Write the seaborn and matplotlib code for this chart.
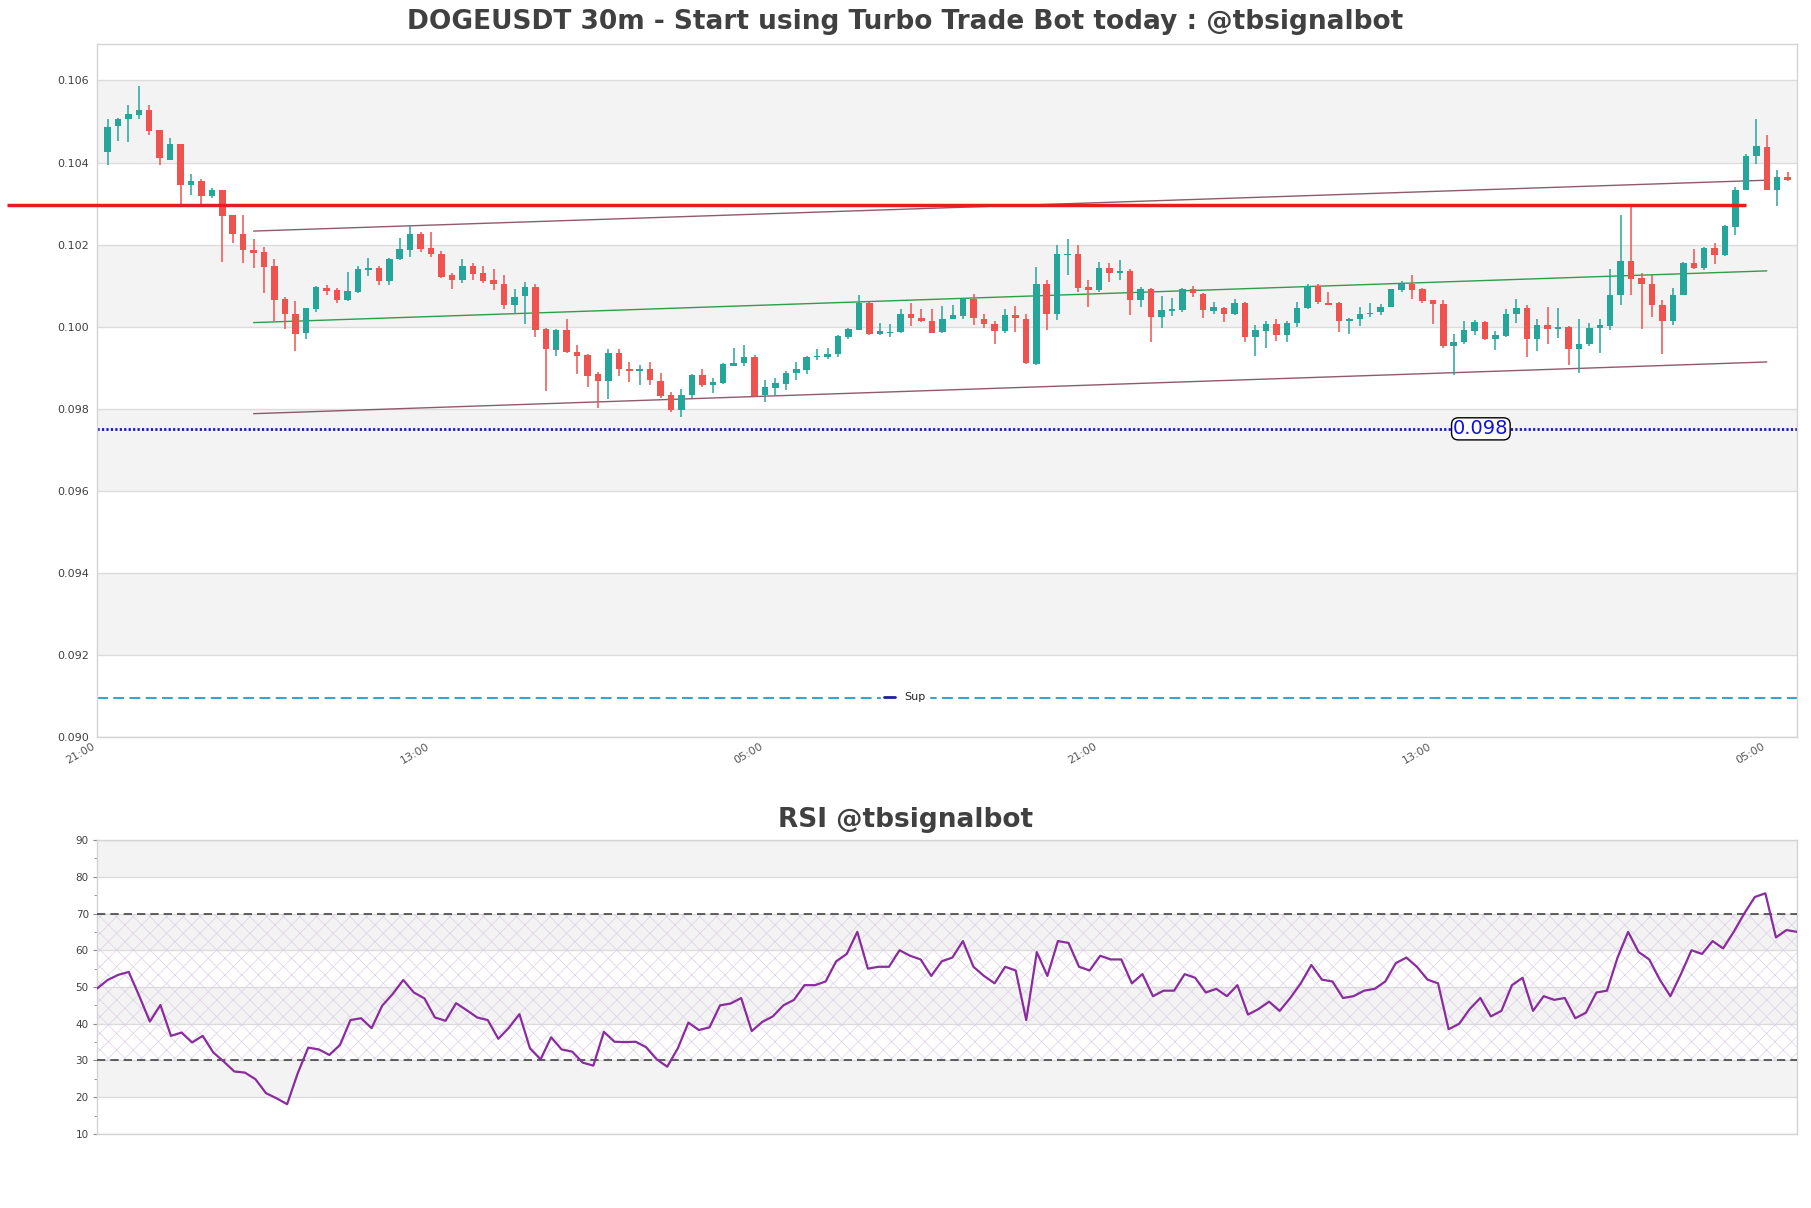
import numpy as np
import pandas as pd
import matplotlib
matplotlib.use("Agg")
import matplotlib.pyplot as plt
import seaborn as sns
from matplotlib.lines import Line2D
from matplotlib.ticker import FormatStrFormatter, MultipleLocator

# ---------------- data ----------------
title_main = "DOGEUSDT 30m - Start using Turbo Trade Bot today : @tbsignalbot"
title_rsi = "RSI @tbsignalbot"
time_labels = ["21:00", "13:00", "05:00", "21:00", "13:00", "05:00"]

open_ = [0.10425, 0.10488, 0.10505, 0.10515, 0.10527, 0.10479, 0.10407, 0.10444, 0.10346, 0.10356,
         0.10318, 0.10332, 0.10271, 0.10227, 0.10186, 0.10182, 0.10149, 0.10067, 0.10032, 0.09984,
         0.10042, 0.10095, 0.10089, 0.10065, 0.10085, 0.10138, 0.10142, 0.10111, 0.10164, 0.10188,
         0.10227, 0.10192, 0.10178, 0.10125, 0.10113, 0.10149, 0.10130, 0.10113, 0.10105, 0.10053,
         0.10075, 0.10097, 0.09994, 0.09942, 0.09991, 0.09939, 0.09930, 0.09884, 0.09868, 0.09937,
         0.09898, 0.09893, 0.09898, 0.09868, 0.09833, 0.09797, 0.09833, 0.09882, 0.09858, 0.09862,
         0.09904, 0.09911, 0.09926, 0.09833, 0.09850, 0.09860, 0.09886, 0.09895, 0.09927, 0.09925,
         0.09933, 0.09975, 0.09992, 0.10057, 0.09981, 0.09985, 0.09987, 0.10032, 0.10022, 0.10015,
         0.09987, 0.10019, 0.10026, 0.10068, 0.10019, 0.10006, 0.09989, 0.10029, 0.10019, 0.09910,
         0.10103, 0.10030, 0.10174, 0.10176, 0.10097, 0.10089, 0.10144, 0.10131, 0.10135, 0.10065,
         0.10093, 0.10024, 0.10039, 0.10041, 0.10093, 0.10080, 0.10038, 0.10046, 0.10032, 0.10058,
         0.09975, 0.09989, 0.10007, 0.09980, 0.10008, 0.10045, 0.10099, 0.10058, 0.10058, 0.10014,
         0.10019, 0.10030, 0.10036, 0.10048, 0.10089, 0.10105, 0.10091, 0.10064, 0.10056, 0.09953,
         0.09963, 0.09989, 0.10012, 0.09971, 0.09977, 0.10032, 0.10046, 0.09971, 0.10003, 0.09995,
         0.10000, 0.09946, 0.09957, 0.09998, 0.10002, 0.10078, 0.10161, 0.10118, 0.10105, 0.10054,
         0.10014, 0.10078, 0.10156, 0.10142, 0.10191, 0.10174, 0.10243, 0.10333, 0.10415, 0.10439,
         0.10334, 0.10365]
high = [0.10505, 0.10508, 0.10541, 0.10586, 0.10541, 0.10480, 0.10460, 0.10445, 0.10371, 0.10361,
        0.10338, 0.10334, 0.10272, 0.10271, 0.10213, 0.10195, 0.10166, 0.10073, 0.10062, 0.10046,
        0.10099, 0.10101, 0.10095, 0.10133, 0.10148, 0.10168, 0.10148, 0.10167, 0.10215, 0.10249,
        0.10231, 0.10231, 0.10184, 0.10130, 0.10166, 0.10156, 0.10149, 0.10140, 0.10127, 0.10093,
        0.10110, 0.10105, 0.09998, 0.09994, 0.10019, 0.09955, 0.09933, 0.09890, 0.09946, 0.09946,
        0.09914, 0.09906, 0.09914, 0.09888, 0.09841, 0.09849, 0.09884, 0.09896, 0.09876, 0.09911,
        0.09949, 0.09955, 0.09930, 0.09869, 0.09876, 0.09892, 0.09915, 0.09929, 0.09945, 0.09949,
        0.09979, 0.09997, 0.10076, 0.10060, 0.10010, 0.10007, 0.10044, 0.10058, 0.10042, 0.10044,
        0.10050, 0.10054, 0.10071, 0.10079, 0.10030, 0.10014, 0.10042, 0.10050, 0.10032, 0.10146,
        0.10114, 0.10200, 0.10213, 0.10200, 0.10114, 0.10157, 0.10156, 0.10162, 0.10141, 0.10097,
        0.10094, 0.10075, 0.10070, 0.10094, 0.10099, 0.10081, 0.10060, 0.10047, 0.10067, 0.10059,
        0.10003, 0.10014, 0.10018, 0.10014, 0.10061, 0.10103, 0.10103, 0.10084, 0.10060, 0.10020,
        0.10049, 0.10057, 0.10056, 0.10092, 0.10111, 0.10127, 0.10095, 0.10065, 0.10065, 0.09981,
        0.10015, 0.10016, 0.10014, 0.09989, 0.10044, 0.10068, 0.10054, 0.10019, 0.10049, 0.10046,
        0.10002, 0.10019, 0.10010, 0.10018, 0.10141, 0.10273, 0.10294, 0.10130, 0.10125, 0.10065,
        0.10095, 0.10157, 0.10190, 0.10194, 0.10203, 0.10249, 0.10341, 0.10422, 0.10507, 0.10466,
        0.10381, 0.10378]
low = [0.10395, 0.10452, 0.10450, 0.10505, 0.10466, 0.10394, 0.10406, 0.10298, 0.10322, 0.10292,
       0.10314, 0.10157, 0.10203, 0.10154, 0.10142, 0.10083, 0.10014, 0.09995, 0.09941, 0.09971,
       0.10036, 0.10076, 0.10058, 0.10062, 0.10083, 0.10123, 0.10101, 0.10101, 0.10162, 0.10170,
       0.10182, 0.10170, 0.10118, 0.10091, 0.10107, 0.10114, 0.10107, 0.10089, 0.10044, 0.10032,
       0.10006, 0.09976, 0.09843, 0.09929, 0.09937, 0.09884, 0.09852, 0.09803, 0.09823, 0.09880,
       0.09864, 0.09858, 0.09858, 0.09827, 0.09792, 0.09781, 0.09827, 0.09854, 0.09838, 0.09861,
       0.09903, 0.09903, 0.09829, 0.09817, 0.09834, 0.09846, 0.09870, 0.09884, 0.09919, 0.09922,
       0.09927, 0.09971, 0.09991, 0.09980, 0.09980, 0.09976, 0.09985, 0.10002, 0.10011, 0.09984,
       0.09984, 0.10018, 0.10019, 0.10003, 0.09998, 0.09957, 0.09984, 0.09988, 0.09908, 0.09907,
       0.09992, 0.10016, 0.10125, 0.10084, 0.10048, 0.10084, 0.10109, 0.10114, 0.10028, 0.10049,
       0.09963, 0.09998, 0.10026, 0.10036, 0.10073, 0.10022, 0.10032, 0.10011, 0.10028, 0.09963,
       0.09929, 0.09947, 0.09965, 0.09963, 0.09999, 0.10042, 0.10056, 0.10053, 0.09987, 0.09981,
       0.10002, 0.10024, 0.10028, 0.10047, 0.10084, 0.10067, 0.10058, 0.10006, 0.09949, 0.09882,
       0.09957, 0.09979, 0.09968, 0.09943, 0.09976, 0.10010, 0.09925, 0.09941, 0.09957, 0.09973,
       0.09907, 0.09888, 0.09953, 0.09937, 0.09992, 0.10054, 0.10078, 0.09995, 0.10024, 0.09934,
       0.10003, 0.10076, 0.10141, 0.10138, 0.10153, 0.10173, 0.10224, 0.10332, 0.10396, 0.10333,
       0.10294, 0.10355]
close = [0.10487, 0.10506, 0.10519, 0.10527, 0.10476, 0.10410, 0.10444, 0.10346, 0.10356, 0.10318,
         0.10334, 0.10269, 0.10226, 0.10187, 0.10179, 0.10145, 0.10065, 0.10030, 0.09983, 0.10045,
         0.10097, 0.10087, 0.10065, 0.10088, 0.10140, 0.10144, 0.10111, 0.10166, 0.10190, 0.10225,
         0.10190, 0.10178, 0.10122, 0.10114, 0.10149, 0.10129, 0.10111, 0.10105, 0.10053, 0.10073,
         0.10097, 0.09992, 0.09946, 0.09991, 0.09938, 0.09929, 0.09880, 0.09868, 0.09937, 0.09898,
         0.09892, 0.09896, 0.09870, 0.09830, 0.09797, 0.09833, 0.09882, 0.09857, 0.09865, 0.09908,
         0.09912, 0.09925, 0.09830, 0.09852, 0.09862, 0.09886, 0.09896, 0.09927, 0.09929, 0.09933,
         0.09977, 0.09994, 0.10057, 0.09981, 0.09989, 0.09987, 0.10032, 0.10021, 0.10014, 0.09985,
         0.10019, 0.10028, 0.10068, 0.10022, 0.10007, 0.09989, 0.10029, 0.10021, 0.09911, 0.10103,
         0.10030, 0.10178, 0.10176, 0.10095, 0.10089, 0.10144, 0.10131, 0.10135, 0.10065, 0.10093,
         0.10024, 0.10040, 0.10042, 0.10093, 0.10081, 0.10041, 0.10047, 0.10032, 0.10058, 0.09975,
         0.09991, 0.10007, 0.09980, 0.10010, 0.10046, 0.10099, 0.10060, 0.10054, 0.10014, 0.10019,
         0.10032, 0.10034, 0.10049, 0.10091, 0.10105, 0.10089, 0.10062, 0.10055, 0.09953, 0.09963,
         0.09991, 0.10012, 0.09971, 0.09979, 0.10032, 0.10046, 0.09971, 0.10003, 0.09995, 0.10000,
         0.09946, 0.09959, 0.09998, 0.10003, 0.10078, 0.10161, 0.10117, 0.10105, 0.10053, 0.10014,
         0.10078, 0.10156, 0.10143, 0.10191, 0.10174, 0.10245, 0.10334, 0.10417, 0.10441, 0.10334,
         0.10365, 0.10357]

rsi = [49.6, 51.9, 53.3, 54.1, 47.5, 40.6, 45.1, 36.7, 37.6, 34.9,
       36.7, 32.2, 29.7, 27.0, 26.7, 24.9, 21.1, 19.7, 18.1, 26.5,
       33.5, 33.0, 31.5, 34.2, 41.0, 41.5, 38.8, 44.9, 48.1, 51.9,
       48.5, 46.9, 41.7, 40.8, 45.6, 43.7, 41.7, 41.0, 35.9, 38.9,
       42.6, 33.3, 30.3, 36.3, 33.0, 32.4, 29.4, 28.6, 37.8, 35.1,
       35.0, 35.1, 33.6, 30.3, 28.3, 33.3, 40.3, 38.3, 39.0, 45.0,
       45.5, 47.0, 38.0, 40.5, 42.0, 45.0, 46.5, 50.5, 50.5, 51.5,
       57.0, 59.0, 65.0, 55.0, 55.5, 55.5, 60.0, 58.5, 57.5, 53.0,
       57.0, 58.0, 62.5, 55.5, 53.0, 51.0, 55.5, 54.5, 41.0, 59.5,
       53.0, 62.5, 62.0, 55.5, 54.5, 58.5, 57.5, 57.5, 51.0, 53.5,
       47.5, 49.0, 49.0, 53.5, 52.5, 48.5, 49.5, 47.5, 50.5, 42.5,
       44.0, 46.0, 43.5, 47.0, 51.0, 56.0, 52.0, 51.5, 47.0, 47.5,
       49.0, 49.5, 51.5, 56.5, 58.0, 55.5, 52.0, 51.0, 38.5, 40.0,
       44.0, 47.0, 42.0, 43.5, 50.5, 52.5, 43.5, 47.5, 46.5, 47.0,
       41.5, 43.0, 48.5, 49.0, 58.0, 65.0, 59.5, 57.5, 52.0, 47.5,
       53.5, 60.0, 59.0, 62.5, 60.5, 65.0, 70.0, 74.5, 75.5, 63.5,
       65.5, 65.0]

resistance_level = 0.10297
support_level = 0.09751
support_label = "0.098"
sup_level = 0.09094
channel_upper = [0.10233, 0.10357]
channel_mid = [0.10010, 0.10136]
channel_lower = [0.09788, 0.09914]
channel_idx = [15, 160]
resistance_idx = [-8.6, 158]
label_idx = 132.6

# ---------------- style ----------------
sns.set_theme(style="white")
plt.rcParams["font.family"] = ["DejaVu Sans"]
plt.rcParams["hatch.linewidth"] = 0.5

TXT = "#404040"
GRID = "#dcdcdc"
BAND = "#f3f3f3"
SPINE = "#d4d4d4"

fig = plt.figure(figsize=(18.11, 12.08), dpi=100)
ax = fig.add_axes([0.0536, 0.3899, 0.9387, 0.5737])
ax2 = fig.add_axes([0.0536, 0.0613, 0.9387, 0.2433])

df = pd.DataFrame({"open": open_, "high": high, "low": low, "close": close})
df["idx"] = np.arange(1, len(df) + 1)
up = df["close"] >= df["open"]
colors = np.where(up, "#26a69a", "#ef5350")

# ---- main chart ----
for lo in [0.092, 0.096, 0.100, 0.104]:
    ax.axhspan(lo, lo + 0.002, color=BAND, zorder=0, lw=0)

ax.vlines(df["idx"], df["low"], df["high"], colors=colors, lw=1.1, zorder=3)
body_bottom = np.minimum(df["open"], df["close"])
body_h = np.maximum((df["close"] - df["open"]).abs(), 0.00002)
ax.bar(df["idx"], body_h, bottom=body_bottom, width=0.62, color=colors, lw=0, zorder=4)

ax.plot(resistance_idx, [resistance_level] * 2, color="#e41e20", lw=2.5,
        clip_on=False, solid_capstyle="butt", zorder=5)
ax.plot(channel_idx, channel_upper, color="#7d3c55", lw=1.0, alpha=0.85, zorder=2)
ax.plot(channel_idx, channel_lower, color="#7d3c55", lw=1.0, alpha=0.85, zorder=2)
ax.plot(channel_idx, channel_mid, color="#2f9e48", lw=1.0, zorder=2)

ax.axhline(support_level, color="#1515c8", lw=2.0, ls=(0, (0.8, 0.8)), zorder=2)
ax.text(label_idx, support_level, support_label, color="#1010e0", fontsize=14,
        ha="center", va="center", zorder=6,
        bbox=dict(boxstyle="round,pad=0.08,rounding_size=0.35", fc="white", ec="black", lw=1))
ax.axhline(sup_level, color="#1a9fd0", lw=1.3, dashes=(6, 3), zorder=2)

leg = ax.legend(handles=[Line2D([0], [0], color="#1f1fa0", lw=2)], labels=["Sup"],
                loc="center", bbox_to_anchor=(0.475, 0.057), fontsize=8,
                frameon=True, facecolor="white", edgecolor="white", framealpha=1,
                handlelength=1.0, handletextpad=0.8, borderpad=0.3)
leg.set_zorder(7)

ax.set_xlim(0, 162.9)
ax.set_ylim(0.090, 0.10689)
ax.set_yticks(np.arange(0.090, 0.1061, 0.002))
ax.yaxis.set_major_formatter(FormatStrFormatter("%.3f"))
ax.set_xticks(np.arange(0, 161, 32))
ax.set_xticklabels(time_labels, rotation=30, ha="right")
ax.tick_params(axis="y", length=0, pad=6, labelsize=8, labelcolor=TXT)
ax.tick_params(axis="x", length=0, pad=3, labelsize=8, labelcolor="#555555")
ax.yaxis.grid(True, color=GRID, lw=1)
ax.xaxis.grid(False)
ax.set_axisbelow(True)
for s in ax.spines.values():
    s.set_color(SPINE)
    s.set_linewidth(1)

# ---- RSI ----
for lo in [20, 40, 60, 80]:
    ax2.axhspan(lo, lo + 10, color=BAND, zorder=0, lw=0)
n_rsi = len(rsi)
ax2.fill_between([0, n_rsi - 1], 30, 70, facecolor="none", edgecolor="#ddd0e6",
                 hatch="xx", lw=0, zorder=1)
ax2.axhline(30, color="#444444", lw=1.2, dashes=(5, 3), zorder=3)
ax2.axhline(70, color="#444444", lw=1.2, dashes=(5, 3), zorder=3)
rsi_df = pd.DataFrame({"i": np.arange(n_rsi), "rsi": rsi})
sns.lineplot(data=rsi_df, x="i", y="rsi", ax=ax2, color="#8a2c9e", lw=1.6, zorder=4)
ax2.set_xlim(0, n_rsi - 1)
ax2.set_ylim(10, 90)
ax2.yaxis.set_major_locator(MultipleLocator(10))
ax2.yaxis.set_minor_locator(MultipleLocator(5))
ax2.set_xticks([])
ax2.set_xlabel("")
ax2.set_ylabel("")
ax2.tick_params(axis="y", which="major", left=True, length=3, width=0.8, color="#888888",
                pad=3, labelsize=7.5, labelcolor=TXT)
ax2.tick_params(axis="y", which="minor", left=True, length=2, width=0.6, color="#888888")
ax2.yaxis.grid(True, color=GRID, lw=1)
ax2.set_axisbelow(True)
for s in ax2.spines.values():
    s.set_color(SPINE)
    s.set_linewidth(1)

fig.text(0.5, 1 - 22 / 1208, title_main, ha="center", va="center", fontsize=19,
         fontweight="bold", color=TXT)
fig.text(0.5, 1 - 820 / 1208, title_rsi, ha="center", va="center", fontsize=19,
         fontweight="bold", color=TXT)

fig.savefig("out.png", dpi=100)
